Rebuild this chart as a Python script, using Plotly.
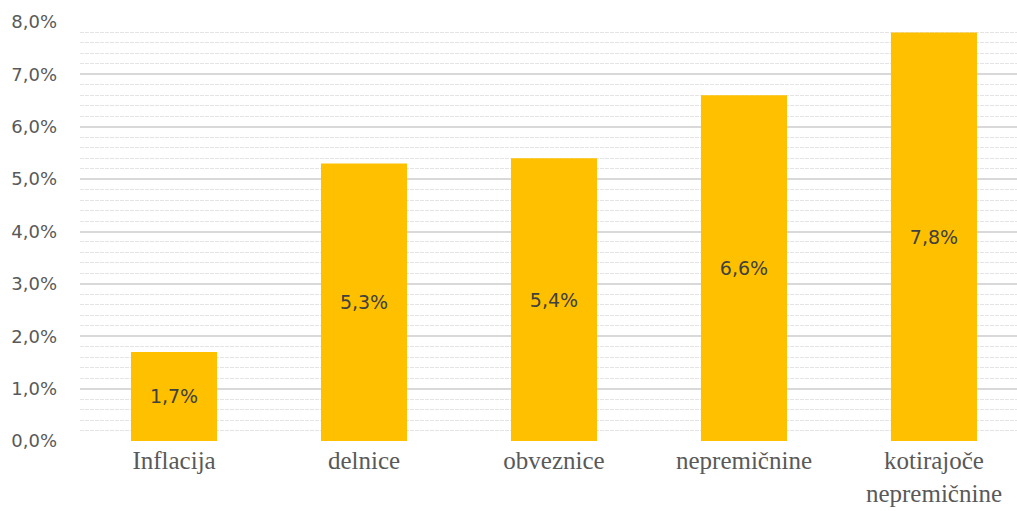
import plotly.graph_objects as go

categories = ["Inflacija", "delnice", "obveznice", "nepremičnine", "kotirajoče<br>nepremičnine"]
values = [1.7, 5.3, 5.4, 6.6, 7.8]
labels = ["1,7%", "5,3%", "5,4%", "6,6%", "7,8%"]
tick_vals = [0, 1, 2, 3, 4, 5, 6, 7, 8]
tick_text = ["0,0%", "1,0%", "2,0%", "3,0%", "4,0%", "5,0%", "6,0%", "7,0%", "8,0%"]

fig = go.Figure(go.Bar(
    x=list(range(len(categories))),
    y=values,
    text=labels,
    textposition="inside",
    insidetextanchor="middle",
    textfont=dict(family="DejaVu Sans", size=19, color="#404040"),
    marker=dict(color="#FFC000", line=dict(width=0)),
    width=0.453,
))

fig.update_layout(
    width=1017, height=511,
    margin=dict(l=80, r=0, t=22, b=70),
    plot_bgcolor="white", paper_bgcolor="white",
    showlegend=False,
    uniformtext=dict(minsize=19, mode="show"),
    xaxis=dict(
        range=[-0.495, 4.437],
        tickmode="array",
        tickvals=list(range(len(categories))),
        ticktext=categories,
        tickfont=dict(family="Liberation Serif", size=25, color="#595959"),
        showgrid=False, zeroline=False, showline=False,
        ticks="", ticklabelstandoff=2, automargin=False,
    ),
    yaxis=dict(
        range=[0, 8],
        tickmode="array",
        tickvals=tick_vals,
        ticktext=tick_text,
        tickfont=dict(family="DejaVu Sans", size=18, color="#595959"),
        showgrid=True, gridcolor="#d9d9d9", gridwidth=2,
        zeroline=False, showline=False, ticks="",
        ticklabelstandoff=22, automargin=False,
        minor=dict(dtick=0.2, showgrid=True, gridcolor="#e4e4e4", gridwidth=1, griddash="4px,1px"),
    ),
)
fig.update_traces(cliponaxis=False)
fig.write_html("out.html")
